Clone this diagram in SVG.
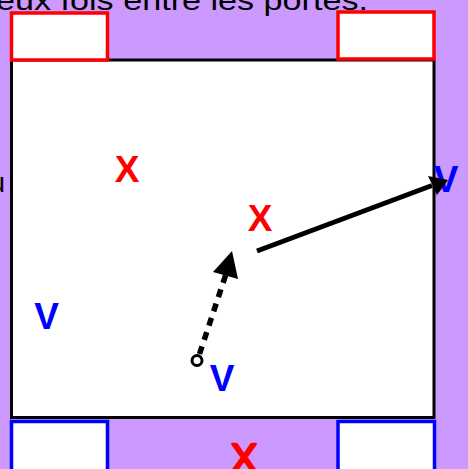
<svg xmlns="http://www.w3.org/2000/svg" width="468" height="469" viewBox="0 0 468 469">
<defs>
<style>
.txt{font-family:"Comic Sans MS","Liberation Sans",sans-serif;fill:#000;font-size:28px}
.x{font-family:"Liberation Sans",Arial,sans-serif;font-weight:bold;font-size:37px;fill:#ff0000;text-anchor:middle}
.v{font-family:"Liberation Sans",Arial,sans-serif;font-weight:bold;font-size:37px;fill:#0000ff;text-anchor:middle}
.door-red{fill:#fff;stroke:#ff0000;stroke-width:3.5}
.door-blue{fill:#fff;stroke:#0000ff;stroke-width:3.5}
</style>
</defs>
<rect x="0" y="0" width="468" height="469" fill="#cc99ff"/>
<text class="txt" x="-4" y="10" textLength="372" lengthAdjust="spacingAndGlyphs">eux fois entre les portes.</text>
<text class="txt" x="5" y="192" text-anchor="end">u</text>
<g id="room"><rect x="11.5" y="60" width="422.5" height="357.5" fill="#fff" stroke="#000" stroke-width="3"/></g>
<g id="door-top-left"><rect class="door-red" x="11.5" y="13" width="96" height="47"/></g>
<g id="door-top-right"><rect class="door-red" x="338" y="12" width="96" height="47"/></g>
<g id="door-bottom-left"><rect class="door-blue" x="11.5" y="421.5" width="96" height="60"/></g>
<g id="door-bottom-right"><rect class="door-blue" x="338" y="421.5" width="96.5" height="60"/></g>
<g id="x1"><text class="x" x="127" y="182">X</text></g>
<g id="x2"><text class="x" x="260" y="231">X</text></g>
<g id="x3"><text x="244" y="472" font-family="Liberation Sans,Arial,sans-serif" font-size="40" fill="#ff0000" stroke="#ff0000" stroke-width="2.5" stroke-linejoin="round" text-anchor="middle">X</text></g>
<g id="v1"><text class="v" x="46.5" y="329">V</text></g>
<g id="v2"><text class="v" x="222" y="391">V</text></g>
<g id="v3"><text class="v" x="446" y="192" text-anchor="start" font-size="42">V</text></g>
<g id="connectors">
<line x1="257" y1="251" x2="432" y2="185.5" stroke="#000" stroke-width="5"/>
<polygon points="448,180 428,176 437,195" fill="#000"/>
<line x1="199.5" y1="354" x2="226" y2="274" stroke="#000" stroke-width="5.5" stroke-dasharray="8,7"/>
<polygon points="232,251 213,272 238,279" fill="#000"/>
<circle cx="197" cy="360.5" r="5" fill="#fff" stroke="#000" stroke-width="3"/>
</g>
</svg>
